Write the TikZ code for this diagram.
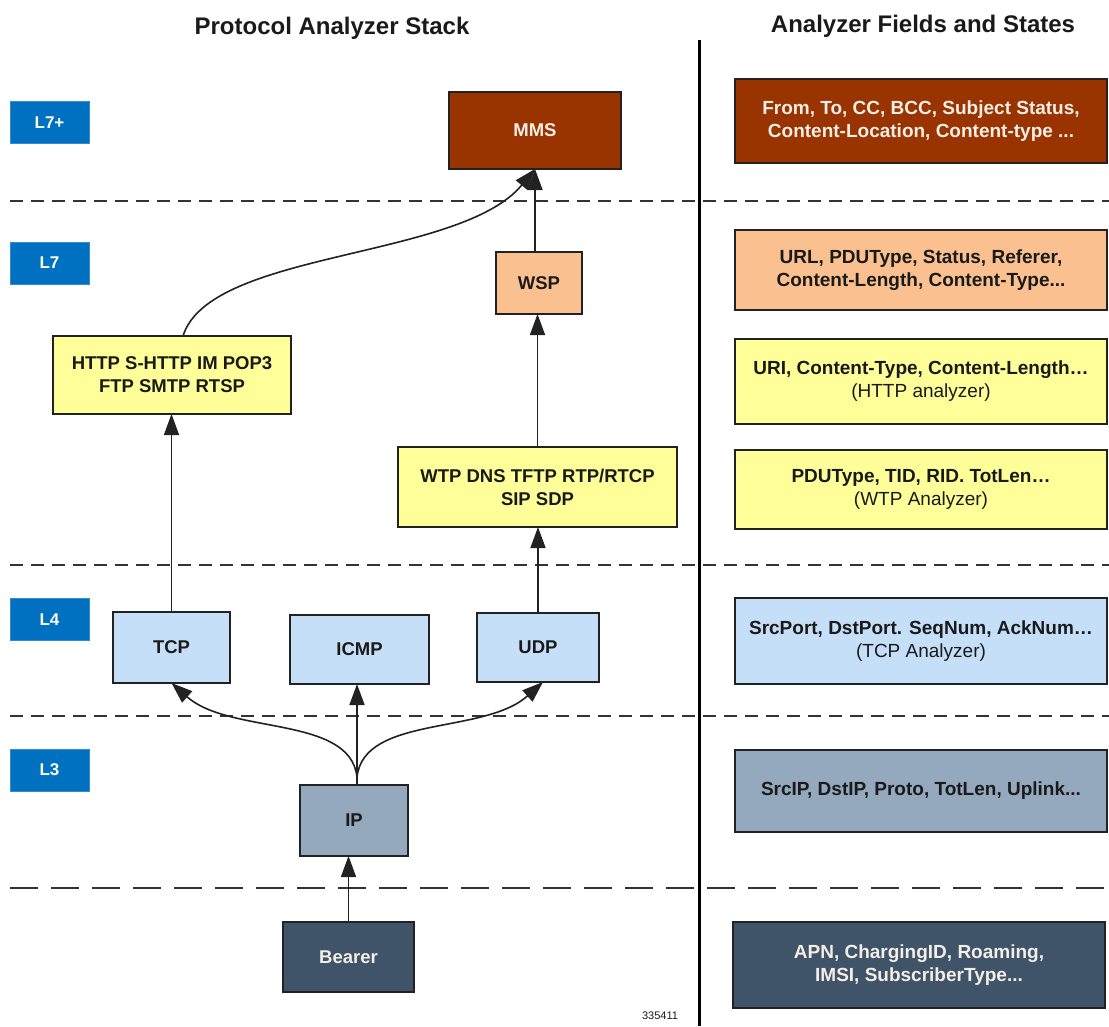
\documentclass[tikz,border=0pt]{standalone}
\usepackage{fontspec}
\setmainfont{Liberation Sans}
\usetikzlibrary{arrows.meta}
\definecolor{lblue}{HTML}{0070C0}
\definecolor{mmsc}{HTML}{993300}
\definecolor{peach}{HTML}{FAC090}
\definecolor{yel}{HTML}{FFFF99}
\definecolor{ltblue}{HTML}{C6DFF9}
\definecolor{ipc}{HTML}{95A9BE}
\definecolor{bearc}{HTML}{3F5369}
\definecolor{darktxt}{HTML}{1A1A1A}
\definecolor{lighttxt}{HTML}{F4EEE6}
\definecolor{linec}{HTML}{222222}
\begin{document}
\begin{tikzpicture}[x=1pt,y=-1pt,
  every node/.style={inner sep=0pt, outer sep=0pt},
  layer/.style={fill=lblue, draw=lblue!80!white, line width=0.6pt, minimum width=79pt, minimum height=42pt,
    text=white, font=\bfseries\fontsize{17}{20}\selectfont},
  pbox/.style={draw=linec, line width=1.4pt, align=center, text=darktxt,
    font=\bfseries\fontsize{18.5}{23}\selectfont},
  fbox/.style={draw=linec, line width=1.4pt, align=center, text=darktxt, minimum width=372pt,
    font=\bfseries\fontsize{19}{23}\selectfont},
  arr/.style={draw=linec, line width=1.6pt, -{Triangle[length=21pt,width=15pt]}},
  sep/.style={draw=black!80, line width=1.6pt, dash pattern=on 13pt off 8pt},
  sepl/.style={draw=black!80, line width=1.6pt, dash pattern=on 28pt off 13pt},
  title/.style={font=\bfseries\fontsize{24}{28}\selectfont, text=darktxt}]
\useasboundingbox (0,0) rectangle (1109,1026);

% titles
\node[title] (t1) at (332,28) {Protocol Analyzer Stack};
\node[title] (t2) at (923,26) {Analyzer Fields and States};

% separators
\draw[sep] (10,201) -- (1109,201);
\draw[sep] (10,565) -- (1109,565);
\draw[sep] (10,716) -- (1109,716);
\draw[sepl] (10,888) -- (1109,888);
\draw[line width=3pt, black] (699,40) -- (699,1026);

% layer labels
\node[layer] (l7p) at (49.5,122.5) {L7+};
\node[layer] (l7) at (49.5,263) {L7};
\node[layer] (l4) at (49.5,619.5) {L4};
\node[layer] (l3) at (49.5,770) {L3};

% protocol stack
\node[pbox, fill=mmsc, text=lighttxt, minimum width=172pt, minimum height=77pt] (mms) at (535,130.5) {MMS};
\node[pbox, fill=peach, minimum width=86pt, minimum height=62pt] (wsp) at (539,283) {WSP};
\node[pbox, fill=yel, minimum width=238pt, minimum height=78pt] (http) at (172,375) {HTTP S-HTTP IM POP3\\FTP SMTP RTSP};
\node[pbox, fill=yel, minimum width=279pt, minimum height=80pt] (wtp) at (537.5,487) {WTP DNS TFTP RTP/RTCP\\SIP SDP};
\node[pbox, fill=ltblue, minimum width=117pt, minimum height=71pt] (tcp) at (171.5,647.5) {TCP};
\node[pbox, fill=ltblue, minimum width=139pt, minimum height=69pt] (icmp) at (359.5,649.5) {ICMP};
\node[pbox, fill=ltblue, minimum width=122pt, minimum height=69pt] (udp) at (538,647.5) {UDP};
\node[pbox, fill=ipc, minimum width=108pt, minimum height=71pt] (ip) at (354,820.5) {IP};
\node[pbox, fill=bearc, text=lighttxt, minimum width=131pt, minimum height=70pt] (bearer) at (348.5,957) {Bearer};

% fields
\node[fbox, fill=mmsc, text=lighttxt, minimum height=84pt] (f7p) at (921,121) {From, To, CC, BCC, Subject Status,\\Content-Location, Content-type ...};
\node[fbox, fill=peach, minimum height=80pt] (f7) at (921,270) {URL, PDUType, Status, Referer,\\Content-Length, Content-Type...};
\node[fbox, fill=yel, minimum height=85pt] (fh) at (921,381.5) {URI, Content-Type, Content-Length…\\\textmd{(HTTP analyzer)}};
\node[fbox, fill=yel, minimum height=79pt] (fw) at (921,489.5) {PDUType, TID, RID. TotLen…\\\textmd{(WTP Analyzer)}};
\node[fbox, fill=ltblue, minimum height=86pt] (f4) at (921,641) {SrcPort, DstPort. SeqNum, AckNum…\\\textmd{(TCP Analyzer)}};
\node[fbox, fill=ipc, minimum height=82pt] (f3) at (921,791) {SrcIP, DstIP, Proto, TotLen, Uplink...};
\node[fbox, fill=bearc, text=lighttxt, minimum height=86pt] (fb) at (919,965) {APN, ChargingID, Roaming,\\IMSI, SubscriberType...};

\node[font=\fontsize{11}{13}\selectfont, text=darktxt] (num) at (660,1016) {335411};

% connectors
\coordinate (fork) at (357,777);
\coordinate (httptop) at (183,336);
\draw[arr] (wsp.north -| mms.south) -- (mms.south);
\draw[arr] (httptop) .. controls (210,250) and (460,260) .. (mms.south);
\draw[arr] (wtp.north) -- (wtp.north |- wsp.south);
\draw[arr] (tcp.north) -- (tcp.north |- http.south);
\draw[arr] (udp.north) -- (udp.north |- wtp.south);
\draw[draw=linec, line width=1.6pt] (ip.north -| fork) -- (fork);
\draw[arr] (fork) -- (fork |- icmp.south);
\draw[arr] (fork) .. controls (350,715) and (230,735) .. (tcp.south);
\draw[arr] (fork) .. controls (364,715) and (484,735) .. ([xshift=5pt]udp.south);
\draw[arr] (bearer.north) -- (bearer.north |- ip.south);
\end{tikzpicture}
\end{document}
